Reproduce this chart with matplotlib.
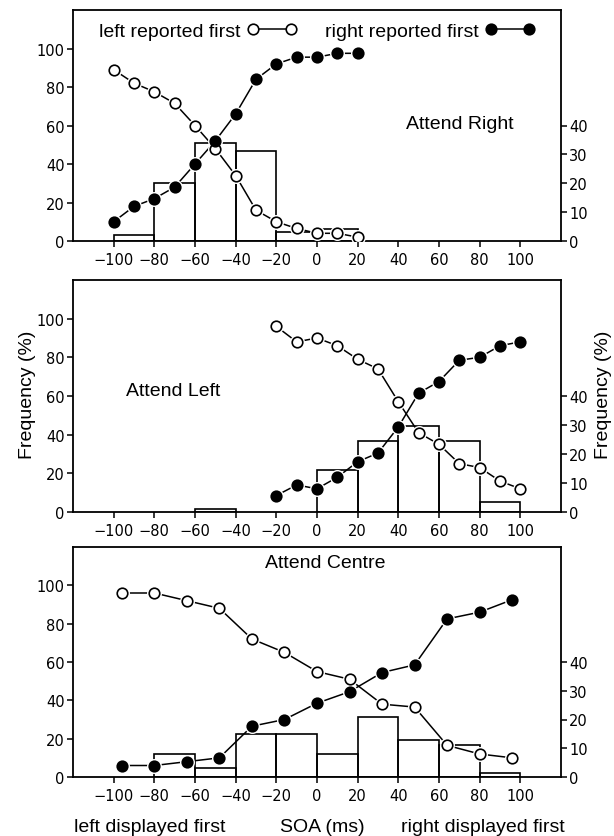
import matplotlib
matplotlib.use('Agg')
import matplotlib.pyplot as plt
from matplotlib.lines import Line2D

# ---------------- data ----------------
# Attend Right
ar_soa = [-100, -90, -80, -70, -60, -50, -40, -30, -20, -10, 0, 10, 20]
ar_left_first = [89, 82, 77.5, 71.5, 60, 48, 34, 16, 10, 6.5, 4, 4, 2]
ar_right_first = [10, 18, 22, 28, 40, 52, 66, 84, 92, 95.5, 95.5, 97.5, 97.5]
ar_bin_left = [-100, -80, -60, -40, -20, 0]
ar_bin_freq = [2, 20, 34, 31, 3, 4]

# Attend Left
al_soa = [-20, -10, 0, 10, 20, 30, 40, 50, 60, 70, 80, 90, 100]
al_left_first = [96, 88, 90, 86, 79, 74, 57, 41, 35, 25, 23, 16, 12]
al_right_first = [8.5, 14, 12, 18, 26, 30.5, 44, 61.5, 67.5, 78.5, 80, 86, 88]
al_bin_left = [-60, 0, 20, 40, 60, 80]
al_bin_freq = [1, 14.5, 24.5, 29.5, 24.5, 3.5]

# Attend Centre
ac_soa = [-96, -80, -64, -48, -32, -16, 0, 16, 32, 48, 64, 80, 96]
ac_left_first = [96, 96, 92, 88, 72, 65, 55, 51, 38, 36.5, 16.5, 12, 10]
ac_right_first = [6, 6, 8, 10, 26.5, 30, 38.5, 44.5, 54.5, 58.5, 82.5, 86, 92.5]
ac_bin_left = [-80, -60, -40, -20, 0, 20, 40, 60, 80]
ac_bin_freq = [8, 3, 15, 15, 8, 21, 13, 11, 1.4]

panel_titles = ["Attend Right", "Attend Left", "Attend Centre"]
x_ticks = [-100, -80, -60, -40, -20, 0, 20, 40, 60, 80, 100]
left_ticks = [0, 20, 40, 60, 80, 100]
right_ticks = [0, 10, 20, 30, 40]
legend_labels = ["left reported first", "right reported first"]

# ---------------- style ----------------
TXT = dict(family=['Liberation Sans', 'DejaVu Sans'], size=14)
TICKFONT = ['DejaVu Sans']
TICKSIZE = 10.5
W, H = 614, 837
fig = plt.figure(figsize=(W / 100, H / 100), dpi=100)

def frac_box(top, bottom, left=73, right=561):
    return [left / W, 1 - bottom / H, (right - left) / W, (bottom - top) / H]

boxes = [frac_box(11, 242), frac_box(281, 513), frac_box(548, 778)]
datasets = [
    (ar_soa, ar_left_first, ar_right_first, ar_bin_left, ar_bin_freq),
    (al_soa, al_left_first, al_right_first, al_bin_left, al_bin_freq),
    (ac_soa, ac_left_first, ac_right_first, ac_bin_left, ac_bin_freq),
]

MS = 7.6
LW = 1.1
MEW = 1.2
axes = []
for i, (box, (soa, lf, rf, bl, bf)) in enumerate(zip(boxes, datasets)):
    axr = fig.add_axes(box)
    ax = fig.add_axes(box, sharex=axr)
    ax.set_zorder(axr.get_zorder() + 1)
    ax.patch.set_visible(False)
    axr.patch.set_facecolor('white')

    # histogram (right axis)
    axr.bar(bl, bf, width=20, align='edge', fill=False, edgecolor='black', linewidth=1.2)
    axr.set_ylim(0, 80)
    axr.set_yticks(right_ticks)
    axr.yaxis.tick_right()
    axr.tick_params(axis='y', direction='out', length=4, width=1.1, labelsize=TICKSIZE, pad=2)
    axr.tick_params(axis='x', direction='out', length=4, width=1.1, labelsize=TICKSIZE, pad=4)
    axr.set_xlim(-120, 120)
    axr.set_xticks(x_ticks)
    for lab in axr.get_xticklabels() + axr.get_yticklabels():
        lab.set_family(TICKFONT)
    for s in axr.spines.values():
        s.set_linewidth(1.3)

    # psychometric curves (left axis)
    for ys, face in ((lf, 'white'), (rf, 'black')):
        ax.plot(soa, ys, color='black', lw=LW, zorder=2)
        ax.plot(soa, ys, ls='none', marker='o', ms=MS + 3.2, mfc='white', mec='none', zorder=3)
        ax.plot(soa, ys, ls='none', marker='o', ms=MS, mfc=face, mec='black', mew=MEW, zorder=4)
    ax.set_ylim(0, 120)
    ax.set_yticks(left_ticks)
    ax.tick_params(axis='y', direction='out', length=4, width=1.1, labelsize=TICKSIZE, pad=2)
    ax.tick_params(axis='x', which='both', bottom=False, labelbottom=False)
    for lab in ax.get_yticklabels():
        lab.set_family(TICKFONT)
    for s in ax.spines.values():
        s.set_visible(False)
    axes.append(ax)

# panel titles
axes[0].text(44, 61, panel_titles[0], ha='left', va='center', **TXT)
axes[1].text(-94, 63, panel_titles[1], ha='left', va='center', **TXT)
axes[2].text(4, 112, panel_titles[2], ha='center', va='center', **TXT)

# legend in top panel
h_open = Line2D([], [], color='black', lw=LW, marker='o', ms=MS, mfc='white', mec='black', mew=MEW)
h_fill = Line2D([], [], color='black', lw=LW, marker='o', ms=MS, mfc='black', mec='black', mew=MEW)
axes[0].legend([h_open, h_fill], legend_labels, ncol=2, markerfirst=False, frameon=False,
               loc='center', bbox_to_anchor=(0.5, 0.909), numpoints=2,
               handlelength=2.56, handletextpad=0.32, columnspacing=1.44,
               prop=dict(family=TXT['family'], size=TXT['size']), borderpad=0, borderaxespad=0)

# axis labels
fig.text(28 / W, 1 - 395 / H, "Frequency (%)", rotation=90, ha='center', va='center', **TXT)
fig.text(603 / W, 1 - 395 / H, "Frequency (%)", rotation=90, ha='center', va='center', **TXT)
fig.text(74 / W, 1 - 828 / H, "left displayed first", ha='left', va='center', **TXT)
fig.text(322 / W, 1 - 828 / H, "SOA (ms)", ha='center', va='center', **TXT)
fig.text(565 / W, 1 - 828 / H, "right displayed first", ha='right', va='center', **TXT)

fig.savefig('out.png', dpi=100, facecolor='white')
